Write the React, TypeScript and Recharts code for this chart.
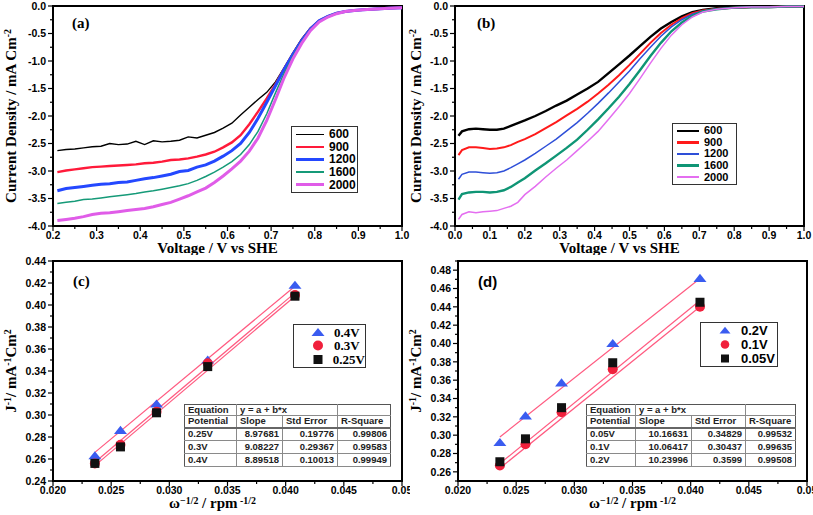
import React from 'react';
import { LineChart, ComposedChart, Line, Scatter, XAxis, YAxis, ReferenceArea, Label } from 'recharts';

const SERIF = '"Liberation Serif", "Times New Roman", serif';
const SANS = '"Liberation Sans", Arial, sans-serif';

// ---- panel (a): LSV at 0.2 - 1.0 V ----
const VOLT_A = [0.21, 0.23, 0.25, 0.27, 0.29, 0.31, 0.33, 0.35, 0.37, 0.39, 0.41, 0.43, 0.45, 0.47, 0.49, 0.51, 0.53, 0.55, 0.57, 0.59,
  0.61, 0.63, 0.65, 0.67, 0.69, 0.71, 0.73, 0.75, 0.77, 0.79, 0.81, 0.83, 0.85, 0.87, 0.89, 0.91, 0.93, 0.95, 0.97, 1.0];
const A_600 = [-2.63, -2.61, -2.6, -2.58, -2.56, -2.55, -2.5, -2.52, -2.51, -2.46, -2.52, -2.45, -2.47, -2.46, -2.44, -2.38, -2.4, -2.35, -2.3, -2.22,
  -2.13, -1.98, -1.84, -1.7, -1.57, -1.38, -1.12, -0.85, -0.6, -0.4, -0.27, -0.19, -0.13, -0.1, -0.08, -0.07, -0.06, -0.05, -0.04, -0.03];
const A_900 = [-3.02, -2.99, -2.97, -2.95, -2.93, -2.92, -2.91, -2.9, -2.89, -2.88, -2.86, -2.85, -2.83, -2.8, -2.79, -2.77, -2.74, -2.7, -2.65, -2.57,
  -2.48, -2.35, -2.15, -1.92, -1.68, -1.42, -1.14, -0.87, -0.62, -0.41, -0.27, -0.19, -0.13, -0.1, -0.08, -0.07, -0.06, -0.05, -0.04, -0.03];
const A_1200 = [-3.36, -3.32, -3.3, -3.28, -3.26, -3.24, -3.23, -3.21, -3.2, -3.17, -3.14, -3.12, -3.09, -3.06, -3.01, -2.99, -2.93, -2.89, -2.82, -2.73,
  -2.63, -2.5, -2.3, -2.04, -1.75, -1.45, -1.15, -0.88, -0.63, -0.42, -0.27, -0.19, -0.13, -0.1, -0.08, -0.07, -0.06, -0.05, -0.04, -0.03];
const A_1600 = [-3.59, -3.57, -3.55, -3.52, -3.51, -3.49, -3.47, -3.45, -3.43, -3.41, -3.38, -3.36, -3.33, -3.3, -3.27, -3.23, -3.17, -3.1, -3.02, -2.93,
  -2.83, -2.7, -2.52, -2.28, -1.96, -1.58, -1.22, -0.91, -0.65, -0.43, -0.28, -0.19, -0.13, -0.1, -0.08, -0.07, -0.06, -0.05, -0.04, -0.03];
const A_2000 = [-3.9, -3.88, -3.86, -3.83, -3.79, -3.77, -3.76, -3.74, -3.72, -3.7, -3.68, -3.65, -3.61, -3.57, -3.51, -3.45, -3.38, -3.31, -3.21, -3.09,
  -2.96, -2.82, -2.64, -2.4, -2.08, -1.7, -1.3, -0.96, -0.68, -0.45, -0.29, -0.2, -0.14, -0.1, -0.08, -0.07, -0.06, -0.05, -0.04, -0.03];

// ---- panel (b): LSV at 0.0 - 1.0 V ----
const VOLT_B = [0.01, 0.02, 0.04, 0.06, 0.08, 0.1, 0.12, 0.14, 0.16, 0.18, 0.2, 0.23, 0.26, 0.29, 0.32, 0.35, 0.38, 0.41, 0.44, 0.47,
  0.5, 0.53, 0.56, 0.59, 0.62, 0.65, 0.68, 0.71, 0.75, 0.8, 0.85, 0.9, 0.95, 1.0];
const B_600 = [-2.36, -2.28, -2.24, -2.23, -2.24, -2.25, -2.25, -2.23, -2.18, -2.13, -2.08, -2.0, -1.91, -1.81, -1.72, -1.61, -1.5, -1.38, -1.22, -1.06,
  -0.9, -0.73, -0.56, -0.41, -0.29, -0.19, -0.11, -0.07, -0.04, -0.03, -0.02, -0.02, -0.01, -0.01];
const B_900 = [-2.71, -2.62, -2.57, -2.57, -2.58, -2.6, -2.59, -2.57, -2.53, -2.47, -2.42, -2.33, -2.22, -2.11, -1.99, -1.87, -1.74, -1.59, -1.43, -1.26,
  -1.07, -0.87, -0.67, -0.49, -0.34, -0.22, -0.13, -0.08, -0.05, -0.03, -0.02, -0.02, -0.01, -0.01];
const B_1200 = [-3.15, -3.06, -3.02, -3.02, -3.03, -3.04, -3.03, -3.0, -2.94, -2.87, -2.8, -2.68, -2.55, -2.42, -2.27, -2.12, -1.95, -1.77, -1.58, -1.38,
  -1.18, -0.96, -0.75, -0.55, -0.38, -0.25, -0.15, -0.09, -0.05, -0.03, -0.02, -0.02, -0.01, -0.01];
const B_1600 = [-3.52, -3.42, -3.39, -3.38, -3.38, -3.39, -3.38, -3.35, -3.29, -3.21, -3.13, -2.99, -2.86, -2.72, -2.58, -2.43, -2.25, -2.06, -1.86, -1.65,
  -1.42, -1.17, -0.91, -0.67, -0.46, -0.3, -0.18, -0.1, -0.06, -0.03, -0.02, -0.02, -0.01, -0.01];
const B_2000 = [-3.88, -3.79, -3.74, -3.76, -3.74, -3.73, -3.72, -3.68, -3.64, -3.57, -3.43, -3.28, -3.11, -2.95, -2.8, -2.63, -2.46, -2.28, -2.06, -1.83,
  -1.59, -1.32, -1.04, -0.77, -0.53, -0.34, -0.2, -0.11, -0.06, -0.03, -0.02, -0.02, -0.01, -0.01];

// ---- panels (c),(d): Koutecky-Levich ----
const OMEGA = [0.0236, 0.0258, 0.0289, 0.0333, 0.0408];
const C_04 = [0.263, 0.286, 0.31, 0.35, 0.418];
const C_03 = [0.256, 0.273, 0.303, 0.347, 0.409];
const C_025 = [0.256, 0.271, 0.302, 0.344, 0.408];
const C_FIT_04 = [0.266, 0.417];
const C_FIT_03 = [0.257, 0.411];
const C_FIT_025 = [0.254, 0.408];
const D_02 = [0.292, 0.321, 0.357, 0.4, 0.471];
const D_01 = [0.267, 0.29, 0.325, 0.372, 0.44];
const D_005 = [0.271, 0.296, 0.33, 0.379, 0.445];
const D_FIT_02 = [0.298, 0.471];
const D_FIT_01 = [0.264, 0.44];
const D_FIT_005 = [0.269, 0.447];
const FIT_X = [0.0236, 0.0408];

const TABLE_C = [['0.25V', '8.97681', '0.19776', '0.99806'], ['0.3V', '9.08227', '0.29367', '0.99583'], ['0.4V', '8.89518', '0.10013', '0.99949']];
const TABLE_D = [['0.05V', '10.16631', '0.34829', '0.99532'], ['0.1V', '10.06417', '0.30437', '0.99635'], ['0.2V', '10.23996', '0.3599', '0.99508']];

const A_X_MAJOR = [0.2, 0.3, 0.4, 0.5, 0.6, 0.7, 0.8, 0.9, 1.0];
const A_X_MINOR = [0.25, 0.35, 0.45, 0.55, 0.65, 0.75, 0.85, 0.95];
const B_X_MAJOR = [0, 0.1, 0.2, 0.3, 0.4, 0.5, 0.6, 0.7, 0.8, 0.9, 1.0];
const B_X_MINOR = [0.05, 0.15, 0.25, 0.35, 0.45, 0.55, 0.65, 0.75, 0.85, 0.95];
const J_Y_MAJOR = [0, -0.5, -1, -1.5, -2, -2.5, -3, -3.5, -4];
const J_Y_MINOR = [-0.25, -0.75, -1.25, -1.75, -2.25, -2.75, -3.25, -3.75];
const K_X_MAJOR = [0.02, 0.025, 0.03, 0.035, 0.04, 0.045, 0.05];
const K_X_MINOR = [0.0225, 0.0275, 0.0325, 0.0375, 0.0425, 0.0475];
const C_Y_MAJOR = [0.24, 0.26, 0.28, 0.3, 0.32, 0.34, 0.36, 0.38, 0.4, 0.42, 0.44];
const C_Y_MINOR = [0.25, 0.27, 0.29, 0.31, 0.33, 0.35, 0.37, 0.39, 0.41, 0.43];
const D_Y_MAJOR = [0.26, 0.28, 0.3, 0.32, 0.34, 0.36, 0.38, 0.4, 0.42, 0.44, 0.46, 0.48];
const D_Y_MINOR = [0.25, 0.27, 0.29, 0.31, 0.33, 0.35, 0.37, 0.39, 0.41, 0.43, 0.45, 0.47, 0.49];

const zip = (xs: number[], ys: number[]) => xs.map((x, i) => ({ x, y: ys[i] }));
const TICK_FONT = { fontFamily: SANS, fontSize: 10.5, fontWeight: 700, fill: '#000' } as const;
const GAP = 4;
const isIn = (arr: number[], v: number) => arr.some(m => Math.abs(m - v) < 1e-9);

// outward ticks, drawn by hand so minor ticks can be shorter and unlabelled
const leftTick = (major: number[], digits: number) => (p: any) => {
  const v = p.payload.value;
  const big = isIn(major, v);
  const ax = p.x + GAP;
  return (
    <g>
      <line x1={ax} x2={ax - (big ? 5 : 3)} y1={p.y} y2={p.y} stroke="#000" strokeWidth={1.2} />
      {big && <text x={ax - 7} y={p.y} dy="0.36em" textAnchor="end" {...TICK_FONT}>{v.toFixed(digits)}</text>}
    </g>
  );
};

const bottomTick = (major: number[], digits: number, trim = false) => (p: any) => {
  const v = p.payload.value;
  const big = isIn(major, v);
  const ay = p.y - GAP;
  let txt = v.toFixed(digits);
  if (trim && v === major[major.length - 1]) txt = txt.replace(/0$/, '');
  return (
    <g>
      <line x1={p.x} x2={p.x} y1={ay} y2={ay + (big ? 5 : 3)} stroke="#000" strokeWidth={1.2} />
      {big && <text x={p.x} y={ay + 13} textAnchor="middle" {...TICK_FONT}>{txt}</text>}
    </g>
  );
};

type Part = { t: string; sup?: boolean };
const rich = (parts: Part[], size: number, raise = 0.4) =>
  parts.map((p, i) => {
    const prevSup = i > 0 && parts[i - 1].sup;
    const dy = p.sup ? -size * raise : prevSup ? size * raise : 0;
    return <tspan key={i} dy={dy} fontSize={p.sup ? size * 0.66 : size}>{p.t}</tspan>;
  });

const yLabel = (parts: Part[], cx: number, size = 15) => (props: any) => {
  const { x, y, height } = props.viewBox;
  return (
    <text transform={`translate(${x + cx},${y + height / 2}) rotate(-90)`} textAnchor="middle"
      fontFamily={SERIF} fontWeight={700} fontSize={size} fill="#000">{rich(parts, size, 0.36)}</text>
  );
};

const xLabel = (parts: Part[], dx: number, dyBase: number, size = 15) => (props: any) => {
  const { x, y, width } = props.viewBox;
  return (
    <text x={x + width / 2 + dx} y={y + dyBase} textAnchor="middle"
      fontFamily={SERIF} fontWeight={700} fontSize={size} fill="#000">{rich(parts, size, 0.3)}</text>
  );
};

const J_LABEL: Part[] = [{ t: 'Current Density / mA Cm' }, { t: '-2', sup: true }];
const V_LABEL: Part[] = [{ t: 'Voltage / V vs SHE' }];
const K_Y_LABEL: Part[] = [{ t: 'J' }, { t: '-1', sup: true }, { t: '/ mA' }, { t: '-1', sup: true }, { t: 'Cm' }, { t: '2', sup: true }];
const K_X_LABEL: Part[] = [{ t: '\u03c9' }, { t: '\u22121/2', sup: true }, { t: ' / rpm' }, { t: ' -1/2', sup: true }];

type Curve = { name: string; ys: number[]; color: string; w: number; lw: number };
type Box = { left: number; top: number; width: number; height: number };

const boxStyle = (b: Box): React.CSSProperties => ({
  position: 'absolute', left: b.left, top: b.top, width: b.width, height: b.height, boxSizing: 'border-box',
  border: '1.2px solid #333', background: '#fff', display: 'flex', flexDirection: 'column', justifyContent: 'space-around', padding: '1px 0',
});

function LsvPanel(props: {
  left: number; top: number; width: number; height: number; yW: number; mRight: number;
  volts: number[]; curves: Curve[]; xDomain: [number, number]; xMajor: number[]; xMinor: number[];
  tag: string; legend: Box; sample: number; legendSize: number;
}) {
  const { left, top, width, height, yW, mRight, volts, curves, xDomain, xMajor, xMinor, tag, legend, sample, legendSize } = props;
  return (
    <div style={{ position: 'absolute', left, top, width, height }}>
      <LineChart width={width} height={height} margin={{ top: 6, right: mRight, bottom: 0, left: 0 }}>
        <XAxis type="number" dataKey="x" domain={xDomain} ticks={[...xMajor, ...xMinor].sort((a, b) => a - b)} interval={0}
          height={29} axisLine={false} tickLine={false} tickSize={0} tickMargin={GAP} tick={bottomTick(xMajor, 1)}>
          <Label content={xLabel(V_LABEL, -10, 27)} />
        </XAxis>
        <YAxis type="number" dataKey="y" domain={[-4, 0]} ticks={[...J_Y_MAJOR, ...J_Y_MINOR].sort((a, b) => a - b)} interval={0}
          width={yW} axisLine={false} tickLine={false} tickSize={0} tickMargin={GAP} tick={leftTick(J_Y_MAJOR, 1)}>
          <Label content={yLabel(J_LABEL, 16)} />
        </YAxis>
        {curves.map(c => (
          <Line key={c.name} data={zip(volts, c.ys)} dataKey="y" type="linear" stroke={c.color} strokeWidth={c.w}
            dot={false} isAnimationActive={false} />
        ))}
        <ReferenceArea x1={xDomain[0]} x2={xDomain[1]} y1={-4} y2={0} fill="none" stroke="#000" strokeWidth={2} />
      </LineChart>
      <div style={{ position: 'absolute', left: 72, top: 15, fontFamily: SERIF, fontWeight: 700, fontSize: 15 }}>{tag}</div>
      <div style={boxStyle(legend)}>
        {curves.map(c => (
          <div key={c.name} style={{ display: 'flex', alignItems: 'center', height: legendSize }}>
            <div style={{ width: sample, height: c.lw, background: c.color, marginLeft: 4, marginRight: 5 }} />
            <span style={{ fontFamily: SANS, fontWeight: 700, fontSize: legendSize, lineHeight: `${legendSize}px`, color: '#000' }}>{c.name}</span>
          </div>
        ))}
      </div>
    </div>
  );
}

const Tri = ({ cx, cy, s = 6.5 }: any) => <polygon points={`${cx},${cy - s * 0.7} ${cx - s},${cy + s * 0.55} ${cx + s},${cy + s * 0.55}`} fill="#3a5cf0" />;
const Dot = ({ cx, cy, s = 5 }: any) => <circle cx={cx} cy={cy} r={s} fill="#f0203c" />;
const Sq = ({ cx, cy, s = 4.5 }: any) => <rect x={cx - s} y={cy - s} width={s * 2} height={s * 2} fill="#111" />;
const TriS = (p: any) => <Tri {...p} s={5.5} />;
const DotS = (p: any) => <Dot {...p} s={4.3} />;
const SqS = (p: any) => <Sq {...p} s={4} />;

const FIT_COLOR = '#ff5a80';

function KlPanel(props: {
  left: number; top: number; mRight: number; yDomain: [number, number]; yMajor: number[]; yMinor: number[];
  sets: { name: string; ys: number[]; fit: number[]; shape: any; icon: any }[]; tag: string; tagFont: string;
  legend: Box; legendFont: string; legendSize: number; table: string[][]; tableLeft: number; cols: number[];
  xdx: number; xdy: number;
}) {
  const { left, top, mRight, yDomain, yMajor, yMinor, sets, tag, tagFont, legend, legendFont, legendSize, table, tableLeft, cols, xdx, xdy } = props;
  const width = left === 0 ? 410 : 408;
  const height = 260;
  const cell: React.CSSProperties = { borderRight: '1px solid #8a8a8a', padding: '0 3px', whiteSpace: 'nowrap', lineHeight: '10px' };
  return (
    <div style={{ position: 'absolute', left, top, width, height }}>
      <ComposedChart width={width} height={height} margin={{ top: 6, right: mRight, bottom: 0, left: 0 }}>
        <XAxis type="number" dataKey="x" domain={[0.02, 0.05]} ticks={[...K_X_MAJOR, ...K_X_MINOR].sort((a, b) => a - b)} interval={0}
          height={34} axisLine={false} tickLine={false} tickSize={0} tickMargin={GAP} tick={bottomTick(K_X_MAJOR, 3, true)}>
          <Label content={xLabel(K_X_LABEL, xdx, xdy)} />
        </XAxis>
        <YAxis type="number" dataKey="y" domain={yDomain} ticks={[...yMajor, ...yMinor].sort((a, b) => a - b)} interval={0}
          width={53} axisLine={false} tickLine={false} tickSize={0} tickMargin={GAP} tick={leftTick(yMajor, 2)}>
          <Label content={yLabel(K_Y_LABEL, 16)} />
        </YAxis>
        {sets.map(s => (
          <Line key={'f' + s.name} data={zip(FIT_X, s.fit)} dataKey="y" type="linear" stroke={FIT_COLOR} strokeWidth={1.2}
            dot={false} isAnimationActive={false} />
        ))}
        {sets.map(s => (
          <Scatter key={s.name} data={zip(OMEGA, s.ys)} dataKey="y" shape={s.shape} isAnimationActive={false} />
        ))}
        <ReferenceArea x1={0.02} x2={0.05} y1={yDomain[0]} y2={yDomain[1]} fill="none" stroke="#000" strokeWidth={2} />
      </ComposedChart>
      <div style={{ position: 'absolute', left: 73, top: 18, fontFamily: tagFont, fontWeight: 700, fontSize: 15 }}>{tag}</div>
      <div style={boxStyle(legend)}>
        {sets.map(s => {
          const Icon = s.icon;
          return (
            <div key={s.name} style={{ display: 'flex', alignItems: 'center', height: 13 }}>
              <svg width={34} height={13}><Icon cx={24} cy={6.5} /></svg>
              <span style={{ fontFamily: legendFont, fontWeight: 700, fontSize: legendSize, lineHeight: '13px', marginLeft: 6 }}>{s.name}</span>
            </div>
          );
        })}
      </div>
      <table style={{
        position: 'absolute', left: tableLeft, top: 149, borderCollapse: 'collapse', background: '#fff', border: '1.5px solid #555',
        fontFamily: SANS, fontWeight: 700, fontSize: 9.5, color: '#222', tableLayout: 'fixed',
      }}>
        <colgroup>{cols.map((w, i) => <col key={i} style={{ width: w }} />)}</colgroup>
        <tbody>
          <tr style={{ height: 10, borderBottom: '1px solid #8a8a8a' }}>
            <td style={cell}>Equation</td>
            <td style={cell} colSpan={2}>y = a + b*x</td>
            <td style={{ ...cell, borderRight: 'none' }}></td>
          </tr>
          <tr style={{ height: 12, borderBottom: '2px solid #666' }}>
            <td style={cell}>Potential</td><td style={cell}>Slope</td><td style={cell}>Std Error</td>
            <td style={{ ...cell, borderRight: 'none' }}>R-Square</td>
          </tr>
          {table.map(r => (
            <tr key={r[0]} style={{ height: 13, borderBottom: '1px solid #8a8a8a' }}>
              <td style={cell}>{r[0]}</td>
              <td style={{ ...cell, textAlign: 'right' }}>{r[1]}</td>
              <td style={{ ...cell, textAlign: 'right' }}>{r[2]}</td>
              <td style={{ ...cell, textAlign: 'right', borderRight: 'none' }}>{r[3]}</td>
            </tr>
          ))}
        </tbody>
      </table>
    </div>
  );
}

export default function App() {
  const curvesA: Curve[] = [
    { name: '600', ys: A_600, color: '#000000', w: 1.4, lw: 1.5 },
    { name: '900', ys: A_900, color: '#ff1a3a', w: 2.4, lw: 2.5 },
    { name: '1200', ys: A_1200, color: '#2448ff', w: 3, lw: 3 },
    { name: '1600', ys: A_1600, color: '#159a78', w: 1.5, lw: 1.5 },
    { name: '2000', ys: A_2000, color: '#e05ce8', w: 3, lw: 3 },
  ];
  const curvesB: Curve[] = [
    { name: '600', ys: B_600, color: '#000000', w: 2.4, lw: 2.5 },
    { name: '900', ys: B_900, color: '#ff1a1a', w: 2, lw: 2.5 },
    { name: '1200', ys: B_1200, color: '#2e4fd8', w: 1.5, lw: 1.5 },
    { name: '1600', ys: B_1600, color: '#0f9575', w: 2.4, lw: 2.5 },
    { name: '2000', ys: B_2000, color: '#e46ef0', w: 1.5, lw: 1.5 },
  ];
  return (
    <div style={{ position: 'absolute', left: 0, top: 0, width: 813, height: 515, background: '#fff', overflow: 'hidden' }}>
      <LsvPanel left={0} top={0} width={410} height={255} yW={53} mRight={8} volts={VOLT_A} curves={curvesA}
        xDomain={[0.2, 1.0]} xMajor={A_X_MAJOR} xMinor={A_X_MINOR} tag="(a)"
        legend={{ left: 291, top: 126, width: 67, height: 67 }} sample={28} legendSize={12} />
      <LsvPanel left={405} top={0} width={408} height={255} yW={50} mRight={9} volts={VOLT_B} curves={curvesB}
        xDomain={[0, 1.0]} xMajor={B_X_MAJOR} xMinor={B_X_MINOR} tag="(b)"
        legend={{ left: 267, top: 123, width: 65, height: 62 }} sample={22} legendSize={11} />
      <KlPanel left={0} top={255} mRight={8} yDomain={[0.24, 0.44]} yMajor={C_Y_MAJOR} yMinor={C_Y_MINOR}
        sets={[
          { name: '0.4V', ys: C_04, fit: C_FIT_04, shape: Tri, icon: Tri },
          { name: '0.3V', ys: C_03, fit: C_FIT_03, shape: Dot, icon: Dot },
          { name: '0.25V', ys: C_025, fit: C_FIT_025, shape: Sq, icon: Sq },
        ]}
        tag="(c)" tagFont={SERIF} legend={{ left: 293, top: 69, width: 73, height: 44 }} legendFont={SERIF} legendSize={13}
        table={TABLE_C} tableLeft={184} cols={[52, 46, 55, 53]} xdx={-15} xdy={27} />
      <KlPanel left={405} top={255} mRight={6} yDomain={[0.25, 0.49]} yMajor={D_Y_MAJOR} yMinor={D_Y_MINOR}
        sets={[
          { name: '0.2V', ys: D_02, fit: D_FIT_02, shape: Tri, icon: TriS },
          { name: '0.1V', ys: D_01, fit: D_FIT_01, shape: Dot, icon: DotS },
          { name: '0.05V', ys: D_005, fit: D_FIT_005, shape: Sq, icon: SqS },
        ]}
        tag="(d)" tagFont={SANS} legend={{ left: 295, top: 67, width: 78, height: 45 }} legendFont={SANS} legendSize={13}
        table={TABLE_D} tableLeft={181} cols={[49, 56, 54, 50]} xdx={0} xdy={27} />
    </div>
  );
}
